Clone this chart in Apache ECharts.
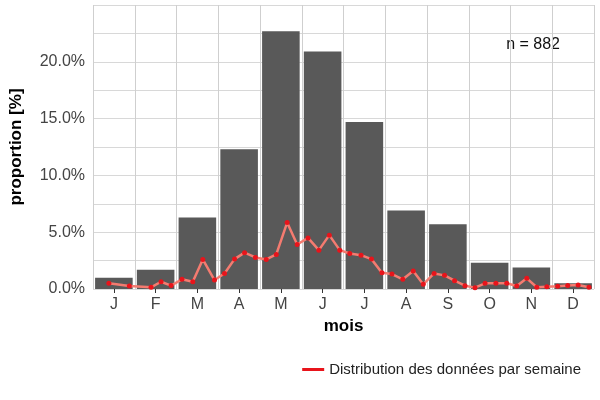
<!DOCTYPE html>
<html><head><meta charset="utf-8">
<script src="https://cdn.jsdelivr.net/npm/echarts@6/dist/echarts.min.js"></script>
</head><body style="margin:0">
<div id="c" style="width:600px;height:400px"></div>
<script>
const months = ['J','F','M','A','M','J','J','A','S','O','N','D'];
const monthly = [1.0,1.7,6.3,12.3,22.7,20.9,14.7,6.9,5.7,2.3,1.9,0.5];
// weekly positions in month units (1 = January centre) and values (%)
const weekPos = [0.88,1.37,1.89,2.13,2.37,2.63,2.89,3.13,3.41,3.65,3.89,4.13,4.39,4.65,4.89,5.15,5.39,5.65,5.91,6.16,6.41,6.65,6.92,7.17,7.42,7.66,7.92,8.17,8.41,8.67,8.92,9.16,9.41,9.65,9.89,10.15,10.41,10.65,10.89,11.13,11.37,11.63,11.87,12.12,12.38];
const weekly = [0.5,0.26,0.15,0.64,0.3,0.85,0.64,2.6,0.79,1.37,2.63,3.2,2.78,2.6,3.04,5.85,3.92,4.5,3.42,4.74,3.42,3.13,2.98,2.63,1.43,1.32,0.85,1.58,0.41,1.37,1.2,0.73,0.29,0.12,0.5,0.5,0.5,0.26,0.94,0.15,0.2,0.25,0.3,0.35,0.15];
const yTicks = [0,5,10,15,20];
const ch = echarts.init(document.getElementById('c'));
const font = 'Liberation Sans, Arial, sans-serif';
ch.setOption({
  animation:false,
  textStyle:{fontFamily:font},
  grid:{left:92,right:6,top:5,bottom:111},
  legend:{bottom:18,right:14,itemWidth:22,itemHeight:3,icon:'rect',textStyle:{fontSize:15,color:'#222',fontFamily:font},data:['Distribution des données par semaine']},
  graphic:[{type:'text',right:40,top:37,style:{text:'n = 882',fontSize:16,fill:'#111',fontFamily:font}}],
  xAxis:[
    {type:'category',data:months,name:'mois',nameLocation:'middle',nameGap:28,
     nameTextStyle:{fontSize:17,fontWeight:'bold',color:'#000'},
     axisLine:{show:false},axisTick:{show:true,alignWithLabel:true,lineStyle:{color:'#333'},length:4},
     axisLabel:{fontSize:16,color:'#444',margin:8},
     splitLine:{show:true,lineStyle:{color:'#cfcfcf'}}},
    {type:'value',min:0.5,max:12.5,show:false}
  ],
  yAxis:{type:'value',min:0,max:25,interval:2.5,name:'proportion [%]',nameLocation:'middle',nameGap:68,
    nameTextStyle:{fontSize:17,fontWeight:'bold',color:'#000'},
    axisLabel:{fontSize:16,color:'#444',formatter:v=>yTicks.includes(v)&&v<25?v.toFixed(1)+'%':''},
    axisLine:{show:false},axisTick:{show:false},
    splitLine:{lineStyle:{color:'#d8d8d8'}}},
  series:[
    {type:'bar',data:monthly,barCategoryGap:'10%',itemStyle:{color:'#595959'},silent:true},
    {type:'line',name:'Distribution des données par semaine',xAxisIndex:1,
     data:weekPos.map((p,i)=>[p,weekly[i]]),
     lineStyle:{color:'#f47b70',width:2.5},itemStyle:{color:'#e8141b'},
     symbol:'circle',symbolSize:5}
  ]
});
</script></body></html>
